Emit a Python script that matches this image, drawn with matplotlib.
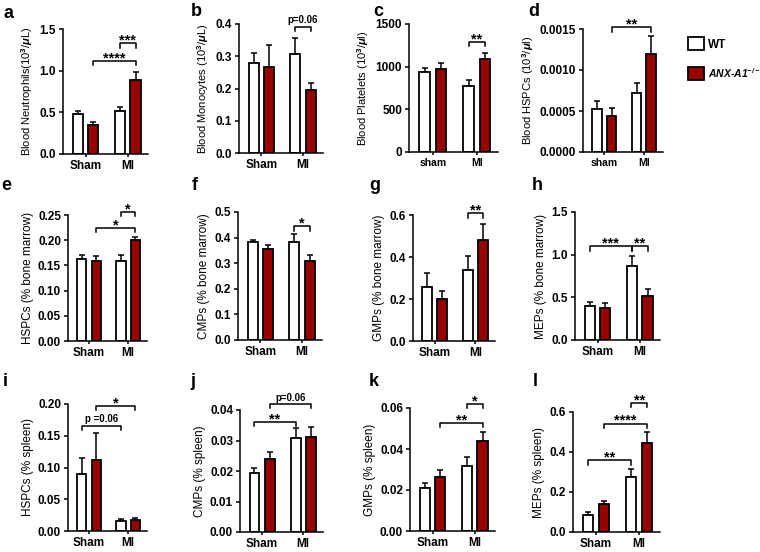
import numpy as np
import matplotlib
matplotlib.use('Agg')
import matplotlib.pyplot as plt
from matplotlib.patches import Patch
from matplotlib.ticker import FormatStrFormatter

plt.rcParams['font.family'] = ['Liberation Sans', 'DejaVu Sans']
plt.rcParams['font.weight'] = 'bold'
plt.rcParams['mathtext.fontset'] = 'custom'
plt.rcParams['mathtext.rm'] = 'Liberation Sans:bold'
plt.rcParams['mathtext.bf'] = 'Liberation Sans:bold'
plt.rcParams['mathtext.it'] = 'Liberation Sans:bold:italic'

## datos (orden: WT sham, KO sham, WT MI, KO MI)
groups = ['Sham', 'MI']
groups_low = ['sham', 'MI']

neut_m = [0.48, 0.35, 0.52, 0.89]
neut_e = [0.04, 0.04, 0.05, 0.10]
mono_m = [0.280, 0.268, 0.306, 0.195]
mono_e = [0.030, 0.067, 0.050, 0.023]
plat_m = [935, 975, 770, 1085]
plat_e = [55, 70, 75, 80]
bhspc_m = [0.00053, 0.00044, 0.00072, 0.00119]
bhspc_e = [0.00009, 0.00010, 0.00012, 0.00022]
bm_hspc_m = [0.163, 0.159, 0.158, 0.200]
bm_hspc_e = [0.007, 0.010, 0.012, 0.007]
bm_cmp_m = [0.381, 0.355, 0.383, 0.308]
bm_cmp_e = [0.008, 0.015, 0.032, 0.023]
bm_gmp_m = [0.256, 0.200, 0.336, 0.482]
bm_gmp_e = [0.070, 0.036, 0.070, 0.075]
bm_mep_m = [0.397, 0.370, 0.869, 0.514]
bm_mep_e = [0.051, 0.065, 0.113, 0.082]
sp_hspc_m = [0.089, 0.112, 0.015, 0.017]
sp_hspc_e = [0.026, 0.042, 0.004, 0.004]
sp_cmp_m = [0.0192, 0.0238, 0.0308, 0.0313]
sp_cmp_e = [0.0019, 0.0024, 0.0032, 0.0030]
sp_gmp_m = [0.0209, 0.0263, 0.0317, 0.0441]
sp_gmp_e = [0.0024, 0.0037, 0.0045, 0.0040]
sp_mep_m = [0.087, 0.140, 0.275, 0.444]
sp_mep_e = [0.012, 0.016, 0.041, 0.057]

## paneles: letra, caja en pixeles (izq, arriba, der, abajo), media, error, ylabel, ylim, paso, formato, grupos, corchetes
panels = [
    ('a', (63, 29, 148, 154), neut_m, neut_e, r'Blood Neutrophils(10$^{3}$/$\mu$L)', 1.5, 0.5, '%.1f', groups,
     [(2, 3, 1.33, '***'), (1, 3, 1.12, '****')]),
    ('b', (239, 24, 323, 153), mono_m, mono_e, r'Blood Monocytes (10$^{3}$/$\mu$L)', 0.4, 0.1, '%.1f', groups,
     [(2, 3, 0.392, 'p=0.06')]),
    ('c', (409, 24, 498, 152), plat_m, plat_e, r'Blood Platelets (10$^{3}$/$\mu$l)', 1500, 500, '%d', groups_low,
     [(2, 3, 1292, '**')]),
    ('d', (583, 29, 663, 152), bhspc_m, bhspc_e, r'Blood HSPCs (10$^{3}$/$\mu$l)', 0.0015, 0.0005, '%.4f', groups_low,
     [(1, 3, 0.00152, '**')]),
    ('e', (68, 215, 147, 341), bm_hspc_m, bm_hspc_e, 'HSPCs (% bone marrow)', 0.25, 0.05, '%.2f', groups,
     [(2, 3, 0.2566, '*'), (1, 3, 0.225, '*')]),
    ('f', (238, 212, 322, 340), bm_cmp_m, bm_cmp_e, 'CMPs (% bone marrow)', 0.5, 0.1, '%.1f', groups,
     [(2, 3, 0.444, '*')]),
    ('g', (413, 215, 495, 341), bm_gmp_m, bm_gmp_e, 'GMPs (% bone marrow)', 0.6, 0.2, '%.1f', groups,
     [(2, 3, 0.608, '**')]),
    ('h', (575, 212, 660, 340), bm_mep_m, bm_mep_e, 'MEPs (% bone marrow)', 1.5, 0.5, '%.1f', groups,
     [(0, 2, 1.10, '***'), (2, 3, 1.10, '**')]),
    ('i', (68, 404, 147, 531), sp_hspc_m, sp_hspc_e, 'HSPCs (% spleen)', 0.20, 0.05, '%.2f', groups,
     [(1, 3, 0.197, '*'), (0, 2, 0.166, 'p =0.06')]),
    ('j', (240, 410, 323, 532), sp_cmp_m, sp_cmp_e, 'CMPs (% spleen)', 0.04, 0.01, '%.2f', groups,
     [(1, 3, 0.042, 'p=0.06'), (0, 2, 0.036, '**')]),
    ('k', (410, 408, 495, 531), sp_gmp_m, sp_gmp_e, 'GMPs (% spleen)', 0.06, 0.02, '%.2f', groups,
     [(2, 3, 0.0621, '*'), (1, 3, 0.0527, '**')]),
    ('l', (573, 412, 660, 532), sp_mep_m, sp_mep_e, 'MEPs (% spleen)', 0.6, 0.2, '%.1f', groups,
     [(2, 3, 0.644, '**'), (1, 3, 0.542, '****'), (0, 2, 0.358, '**')]),
]

letter_pos = {'a': (9, 14), 'b': (196, 12), 'c': (378, 12), 'd': (534, 12),
              'e': (6, 186), 'f': (195, 186), 'g': (375, 186), 'h': (537, 186),
              'i': (5, 382), 'j': (193, 382), 'k': (374, 382), 'l': (535, 382)}

W, H = 760, 552
red = '#990000'
colors = ['white', red, 'white', red]
xpos = np.array([0, 1, 2.7, 3.7])

fig = plt.figure(figsize=(W/100, H/100), dpi=100)

def corchete(ax, i, j, y, txt, ytop):
    d = 0.035*ytop
    ax.plot([xpos[i], xpos[i], xpos[j], xpos[j]], [y-d, y, y, y-d], color='k', lw=1.1, clip_on=False)
    if txt.startswith('p'):
        ax.text((xpos[i]+xpos[j])/2, y+0.01*ytop, txt, ha='center', va='bottom', fontsize=7, clip_on=False)
    else:
        ax.text((xpos[i]+xpos[j])/2, y-0.035*ytop, txt, ha='center', va='bottom', fontsize=10.5, clip_on=False)

for letra, (l, t, r, b), m, e, ylab, ytop, paso, fmt, grp, brs in panels:
    ax = fig.add_axes([l/W, 1-b/H, (r-l)/W, (b-t)/H])
    ax.bar(xpos, m, width=0.65, color=colors, edgecolor='k', linewidth=1.3, zorder=2)
    ax.errorbar(xpos, m, yerr=[np.zeros(4), e], fmt='none', ecolor='k', elinewidth=1.1, capsize=2.5, capthick=1.1, zorder=1)
    ax.set_xlim(-0.95, 4.5)
    ax.set_ylim(0, ytop)
    ax.set_yticks(np.arange(0, ytop + paso/2, paso))
    ax.yaxis.set_major_formatter(FormatStrFormatter(fmt))
    ax.set_xticks([0.5, 3.2])
    ax.set_xticklabels(grp)
    for s in ['top', 'right']:
        ax.spines[s].set_visible(False)
    for s in ['left', 'bottom']:
        ax.spines[s].set_linewidth(1.1)
    ax.tick_params(length=3, width=1.1, labelsize=8.5, pad=2)
    ax.tick_params(axis='x', length=2.5, pad=1.5)
    if letra in 'cd':
        ax.tick_params(axis='x', labelsize=7.5)
    ax.set_ylabel(ylab, fontsize=8 if letra in 'abcd' else 8.5, labelpad=3)
    for br in brs:
        corchete(ax, *br, ytop)
    lx, ly = letter_pos[letra]
    fig.text(lx/W, 1-ly/H, letra, fontsize=13, fontweight='bold', ha='center', va='center')

handles = [Patch(facecolor='white', edgecolor='k', linewidth=1.3),
           Patch(facecolor=red, edgecolor='k', linewidth=1.3)]
leg = fig.legend(handles, ['WT', r'ANX-A1$^{\mathregular{-/-}}$'], loc='upper left', bbox_to_anchor=(680/W, 1-29/H),
                 frameon=False, fontsize=8.5, handlelength=1.3, handleheight=1.3, labelspacing=1.3,
                 handletextpad=0.4, borderpad=0.2)
leg.get_texts()[1].set_style('italic')
leg.get_texts()[1].set_fontsize(7.5)

fig.savefig('out.png', dpi=100)
